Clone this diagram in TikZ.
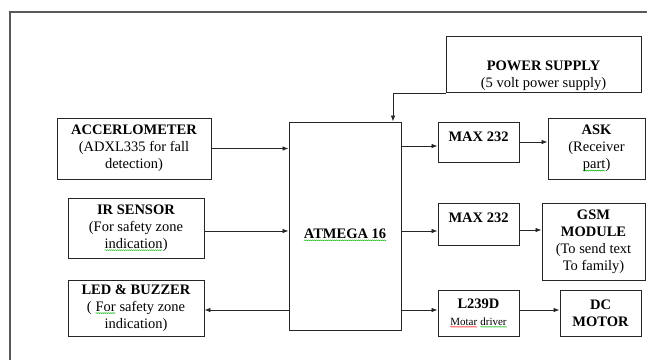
\documentclass[tikz,border=0pt]{standalone}
\usepackage{fontspec}
\setmainfont{Liberation Serif}
\usetikzlibrary{arrows.meta,calc,decorations.pathmorphing}
\newcommand\squig[2]{\tikz[baseline=(sq.base)]{\node[draw=none,inner sep=0pt,outer sep=0pt,minimum width=0pt,minimum height=0pt,align=left] (sq) {#2};\draw[#1,line width=0.4pt,decorate,decoration={snake,amplitude=0.5pt,segment length=2pt}] ([yshift=-1.8pt]sq.base west) -- ([yshift=-1.8pt]sq.base east);}}
\begin{document}
\begin{tikzpicture}[x=1pt,y=-1pt,
 box/.style={draw=black!85,line width=0.9pt,inner sep=0pt,align=center,font=\fontsize{14.5}{17}\selectfont},
 txt/.style={align=center,inner sep=0pt,font=\fontsize{14.5}{17}\selectfont},
 arr/.style={draw=black!85,line width=0.8pt,-{Latex[length=6pt,width=4.5pt]}}]
\useasboundingbox (0,0) rectangle (647,360);
% frame
\draw[black!65,line width=1.2pt] (10,360) -- (10,12) -- (647,12);
% boxes
\node[box,minimum width=195pt,minimum height=56pt] (ps) at (543.5,64) {};
\node[txt] (psT) at (543.5,76) {\textbf{POWER SUPPLY}\\(5 volt power supply)};
\node[box,minimum width=154pt,minimum height=61pt] (acc) at (134,148.5) {\textbf{ACCERLOMETER}\\(ADXL335 for fall\\detection)};
\node[box,minimum width=136pt,minimum height=60pt] (ir) at (136,228) {\textbf{IR SENSOR}\\(For safety zone\\\squig{green!70!black}{indication})};
\node[box,minimum width=136pt,minimum height=56pt] (led) at (136,308) {\textbf{LED \& BUZZER}\\( \squig{green!70!black}{For} safety zone\\indication)};
\node[box,minimum width=112pt,minimum height=208pt] (at) at (345,226) {};
\node[txt] (atT) at (345,235) {\textbf{\squig{green!70!black}{ATMEGA 16}}};
\node[box,minimum width=81pt,minimum height=40pt] (m1) at (478.5,142) {};
\node[txt] (m1T) at (478.5,137) {\textbf{MAX 232}};
\node[box,minimum width=97pt,minimum height=61pt] (ask) at (596.5,148.5) {\textbf{ASK}\\(Receiver\\\squig{green!70!black}{part})};
\node[box,minimum width=81pt,minimum height=42pt] (m2) at (478.5,224) {};
\node[txt] (m2T) at (478.5,218) {\textbf{MAX 232}};
\node[box,minimum width=103pt,minimum height=77pt] (gsm) at (593.5,241.5) {\textbf{GSM}\\\textbf{MODULE}\\(To send text\\To family)};
\node[box,minimum width=81pt,minimum height=46pt] (l2) at (478.5,313) {\textbf{L239D}\\{\fontsize{11}{13}\selectfont\squig{red}{Motar} \squig{green!70!black}{driver}}};
\node[box,minimum width=81pt,minimum height=46pt] (dc) at (600.5,313) {\textbf{DC}\\\textbf{MOTOR}};
% connectors
\coordinate (psout) at ($(ps.south west)+(0,1)$);
\coordinate (atin) at ($(at.north)+(48,0)$);
\draw[arr] (psout) -| (atin);
\draw[arr] (acc.east) -- (acc.east -| at.west);
\coordinate (irout) at ($(ir.east)+(0,3)$);
\draw[arr] (irout) -- (irout -| at.west);
\coordinate (ledin) at ($(led.east)+(0,2)$);
\draw[arr] (ledin -| at.west) -- (ledin);
\coordinate (m1in) at ($(m1.west)+(0,4)$);
\draw[arr] (m1in -| at.east) -- (m1in);
\draw[arr] (m1.east) -- (m1.east -| ask.west);
\coordinate (m2in) at ($(m2.west)+(0,7)$);
\draw[arr] (m2in -| at.east) -- (m2in);
\coordinate (m2out) at ($(m2.east)+(0,6)$);
\draw[arr] (m2out) -- (m2out -| gsm.west);
\coordinate (l2in) at ($(l2.west)+(0,-3)$);
\draw[arr] (l2in -| at.east) -- (l2in);
\coordinate (l2out) at ($(l2.east)+(0,-3)$);
\draw[arr] (l2out) -- (l2out -| dc.west);
\end{tikzpicture}
\end{document}
